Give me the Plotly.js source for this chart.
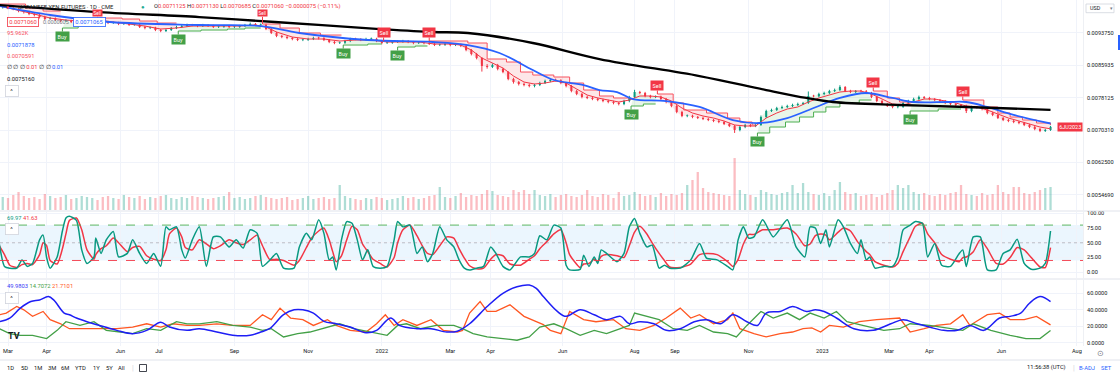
<!DOCTYPE html>
<html><head><meta charset="utf-8">
<script src="https://cdn.plot.ly/plotly-3.0.1.min.js"></script>
<style>html,body{margin:0;padding:0;background:#fff;overflow:hidden}</style>
</head><body><div id="chart" style="width:1120px;height:378px"></div>
<script>
// ---------- DATA (bar index 0 = 1 Mar 2021, trading days; one candle = 3 sessions) ----------
const firstBar = -3, barStep = 3;
const closes = [0.009996,0.009972,0.009948,0.009900,0.009876,0.009828,0.009804,0.009755,0.009707,0.009720,
0.009683,0.009659,0.009665,0.009635,0.009640,0.009659,0.009683,0.009707,0.009683,0.009635,
0.009611,0.009615,0.009587,0.009590,0.009563,0.009570,0.009514,0.009490,0.009495,0.009442,
0.009418,0.009442,0.009490,0.009514,0.009538,0.009563,0.009555,0.009538,0.009563,0.009540,
0.009514,0.009520,0.009538,0.009514,0.009518,0.009538,0.009563,0.009587,0.009563,0.009570,
0.009466,0.009370,0.009297,0.009273,0.009249,0.009225,0.009201,0.009205,0.009225,0.009249,
0.009245,0.009201,0.009153,0.009129,0.009135,0.009177,0.009225,0.009220,0.009201,0.009225,
0.009230,0.009177,0.009129,0.009135,0.009153,0.009160,0.009177,0.009153,0.009129,0.009135,
0.009125,0.009105,0.009080,0.009085,0.009105,0.009080,0.009088,0.009056,0.008960,0.008863,
0.008767,0.008574,0.008550,0.008598,0.008502,0.008429,0.008261,0.008188,0.008140,0.008116,
0.008092,0.008116,0.008164,0.008212,0.008237,0.008230,0.008164,0.008092,0.007971,0.007899,
0.007827,0.007803,0.007778,0.007754,0.007730,0.007706,0.007682,0.007658,0.007730,0.007827,
0.007947,0.007923,0.007851,0.007827,0.007835,0.007778,0.007706,0.007610,0.007465,0.007369,
0.007375,0.007344,0.007320,0.007296,0.007272,0.007248,0.007224,0.007176,0.007127,0.007031,
0.007103,0.007152,0.007127,0.007152,0.007344,0.007489,0.007513,0.007561,0.007586,0.007610,
0.007634,0.007658,0.007682,0.007851,0.007845,0.007899,0.007923,0.007971,0.007995,0.008068,
0.007971,0.007947,0.007971,0.007965,0.007923,0.007827,0.007730,0.007658,0.007610,0.007586,
0.007590,0.007682,0.007730,0.007778,0.007827,0.007803,0.007778,0.007754,0.007730,0.007682,
0.007658,0.007634,0.007610,0.007489,0.007586,0.007580,0.007537,0.007441,0.007393,0.007320,
0.007272,0.007248,0.007224,0.007200,0.007152,0.007103,0.007055,0.007007,0.007031,0.007106];
const highs = [0.010040,0.010010,0.009990,0.009975,0.009925,0.009905,0.009860,0.009830,0.009790,0.009760,
0.009745,0.009710,0.009700,0.009690,0.009675,0.009690,0.009715,0.009740,0.009735,0.009700,
0.009660,0.009645,0.009640,0.009620,0.009615,0.009600,0.009595,0.009545,0.009525,0.009520,
0.009470,0.009470,0.009515,0.009545,0.009565,0.009595,0.009590,0.009580,0.009590,0.009585,
0.009570,0.009550,0.009565,0.009560,0.009545,0.009565,0.009590,0.009620,0.009610,0.009600,
0.009595,0.009490,0.009400,0.009325,0.009300,0.009275,0.009255,0.009235,0.009255,0.009280,
0.009280,0.009270,0.009225,0.009180,0.009165,0.009205,0.009255,0.009255,0.009245,0.009255,
0.009260,0.009255,0.009200,0.009165,0.009180,0.009190,0.009205,0.009200,0.009180,0.009160,
0.009165,0.009150,0.009130,0.009110,0.009135,0.009130,0.009115,0.009115,0.009080,0.008985,
0.008890,0.008790,0.008620,0.008635,0.008625,0.008530,0.008450,0.008290,0.008215,0.008170,
0.008150,0.008145,0.008195,0.008245,0.008275,0.008270,0.008255,0.008190,0.008120,0.008000,
0.007925,0.007860,0.007830,0.007810,0.007785,0.007760,0.007735,0.007710,0.007760,0.007855,
0.008000,0.007975,0.007950,0.007880,0.007865,0.007860,0.007805,0.007730,0.007640,0.007495,
0.007405,0.007400,0.007370,0.007350,0.007325,0.007300,0.007275,0.007250,0.007205,0.007155,
0.007130,0.007180,0.007175,0.007180,0.007380,0.007520,0.007545,0.007590,0.007620,0.007640,
0.007665,0.007690,0.007710,0.007960,0.007880,0.007930,0.007955,0.008000,0.008030,0.008110,
0.008090,0.008000,0.007995,0.008000,0.007995,0.007950,0.007855,0.007760,0.007685,0.007640,
0.007620,0.007710,0.007760,0.007810,0.007860,0.007850,0.007830,0.007800,0.007780,0.007755,
0.007710,0.007685,0.007660,0.007640,0.007615,0.007610,0.007605,0.007560,0.007470,0.007420,
0.007345,0.007300,0.007275,0.007250,0.007225,0.007180,0.007130,0.007080,0.007060,0.007130];
const lows = [0.009960,0.009945,0.009920,0.009870,0.009840,0.009800,0.009770,0.009720,0.009680,0.009690,
0.009660,0.009630,0.009635,0.009610,0.009615,0.009620,0.009640,0.009660,0.009655,0.009610,
0.009585,0.009590,0.009560,0.009565,0.009540,0.009545,0.009490,0.009460,0.009465,0.009415,
0.009390,0.009395,0.009420,0.009465,0.009490,0.009515,0.009530,0.009510,0.009515,0.009515,
0.009490,0.009490,0.009495,0.009490,0.009490,0.009495,0.009515,0.009540,0.009540,0.009540,
0.009440,0.009345,0.009270,0.009245,0.009220,0.009195,0.009175,0.009175,0.009180,0.009200,
0.009215,0.009175,0.009125,0.009100,0.009105,0.009110,0.009150,0.009195,0.009175,0.009180,
0.009200,0.009150,0.009100,0.009105,0.009110,0.009130,0.009135,0.009125,0.009100,0.009105,
0.009100,0.009080,0.009055,0.009055,0.009060,0.009050,0.009055,0.009030,0.008930,0.008830,
0.008735,0.008440,0.008510,0.008525,0.008470,0.008400,0.008230,0.008150,0.008105,0.008085,
0.008060,0.008060,0.008090,0.008140,0.008185,0.008200,0.008135,0.008060,0.007940,0.007870,
0.007795,0.007775,0.007750,0.007725,0.007700,0.007675,0.007650,0.007625,0.007630,0.007700,
0.007800,0.007895,0.007820,0.007795,0.007800,0.007750,0.007675,0.007580,0.007435,0.007340,
0.007340,0.007315,0.007295,0.007270,0.007245,0.007220,0.007195,0.007150,0.007100,0.006960,
0.007000,0.007075,0.007100,0.007100,0.007130,0.007320,0.007465,0.007490,0.007535,0.007560,
0.007585,0.007610,0.007635,0.007660,0.007815,0.007820,0.007870,0.007895,0.007945,0.007970,
0.007945,0.007920,0.007920,0.007940,0.007895,0.007800,0.007700,0.007630,0.007585,0.007555,
0.007555,0.007565,0.007655,0.007705,0.007750,0.007775,0.007750,0.007725,0.007705,0.007655,
0.007630,0.007605,0.007580,0.007440,0.007460,0.007550,0.007505,0.007410,0.007365,0.007295,
0.007245,0.007220,0.007195,0.007170,0.007125,0.007075,0.007025,0.006980,0.006985,0.007010];
const volumes = [54200,50000,62600,75100,58400,50000,54200,45900,66700,58400,
50000,54200,62600,45900,50000,58400,54200,50000,41700,54200,
58400,50000,45900,62600,54200,50000,58400,45900,54200,50000,
58400,62600,50000,45900,54200,50000,58400,54200,50000,45900,
50000,54200,58400,75100,50000,54200,45900,50000,58400,62600,
54200,50000,45900,50000,54200,41700,45900,50000,58400,45900,
50000,54200,45900,50000,104300,58400,50000,45900,41700,50000,
45900,54200,50000,41700,45900,50000,58400,50000,54200,45900,
50000,58400,62600,95900,54200,50000,58400,70900,54200,62600,
58400,66700,83400,79200,62600,58400,54200,83400,75100,83400,
66700,83400,62600,58400,66700,54200,62600,66700,58400,54200,
62600,83400,58400,54200,66700,62600,50000,75100,58400,62600,
75100,66700,58400,62600,54200,70900,58400,66700,62600,70900,
104300,125100,158500,91700,75100,70900,66700,62600,58400,216800,
83400,66700,62600,54200,83400,75100,66700,62600,70900,75100,
104300,70900,112600,75100,66700,62600,70900,58400,83400,116800,
75100,66700,70900,58400,62600,66700,54200,62600,70900,83400,
104300,91700,104300,75100,66700,70900,62600,58400,66700,62600,
70900,75100,104300,66700,62600,58400,70900,62600,66700,104300,
75100,66700,95900,95900,70900,66700,75100,83400,91700,95962];

const tickBars = [0,22,64,86,129,171,213,252,275,316,357,380,422,464,502,525,566,609];
const tickLabels = ['Mar','Apr','Jun','Jul','Sep','Nov','2022','Mar','Apr','Jun','Aug','Sep','Nov','2023','Mar','Apr','Jun','Aug'];
const priceTicks = [0.0054690,0.0062500,0.0070310,0.0078125,0.0085935,0.0093750,0.0101560];
const priceTickText = ['0.0054690','0.0062500','0.0070310','0.0078125','0.0085935','0.0093750','0.0101560'];

// [bar, value]
const emaBlue = [[-5,0.010021],[24,0.009804],[58,0.009635],[109,0.009563],[144,0.009538],[166,0.009370],[205,0.009201],[242,0.009153],[262,0.009080],[280,0.008888],[299,0.008478],[311,0.008237],[328,0.008116],[337,0.007995],[347,0.007947],[356,0.007778],[375,0.007730],[394,0.007586],[413,0.007272],[428,0.007200],[444,0.007320],[459,0.007561],[474,0.007803],[489,0.007923],[504,0.007803],[516,0.007706],[535,0.007706],[546,0.007706],[558,0.007586],[573,0.007393],[594,0.0071878]];
const smaBlack = [[-5,0.010045],[52,0.009876],[109,0.009755],[152,0.009635],[212,0.009466],[242,0.009394],[262,0.009370],[299,0.009129],[337,0.008743],[394,0.008333],[432,0.007995],[455,0.007803],[470,0.007706],[508,0.007634],[546,0.007586],[594,0.0075160]];
const emaRed = [[-5,0.010021],[6,0.009924],[15,0.009828],[24,0.009731],[33,0.009683],[42,0.009659],[51,0.009683],[60,0.009635],[69,0.009587],[78,0.009538],[87,0.009466],[96,0.009490],[105,0.009538],[114,0.009538],[123,0.009538],[132,0.009538],[141,0.009563],[147,0.009514],[153,0.009394],[162,0.009273],[171,0.009225],[180,0.009225],[189,0.009177],[198,0.009201],[207,0.009201],[216,0.009153],[225,0.009153],[234,0.009153],[243,0.009105],[252,0.009105],[258,0.009080],[264,0.008960],[270,0.008767],[276,0.008646],[282,0.008526],[288,0.008333],[294,0.008188],[300,0.008140],[306,0.008164],[312,0.008212],[318,0.008164],[324,0.008020],[330,0.007875],[336,0.007803],[342,0.007754],[348,0.007706],[354,0.007754],[360,0.007851],[366,0.007851],[372,0.007827],[378,0.007730],[384,0.007561],[390,0.007441],[396,0.007369],[402,0.007320],[408,0.007248],[414,0.007152],[420,0.007127],[426,0.007127],[432,0.007320],[438,0.007441],[444,0.007537],[450,0.007586],[456,0.007706],[462,0.007803],[468,0.007875],[474,0.007947],[480,0.007971],[486,0.007971],[492,0.007899],[498,0.007778],[504,0.007658],[510,0.007634],[516,0.007706],[522,0.007778],[528,0.007778],[534,0.007730],[540,0.007682],[546,0.007610],[552,0.007586],[558,0.007513],[564,0.007417],[570,0.007320],[576,0.007248],[582,0.007176],[588,0.007103],[594,0.0070591]];
// [bar, level, direction (1 = bullish / green, -1 = bearish / red)]
const supertrend = [[-5,0.010069,-1],[10,0.009972,-1],[20,0.009900,-1],
[31,0.009490,1],[40,0.009538,1],
[51,0.009731,-1],[65,0.009707,-1],[75,0.009659,-1],[85,0.009611,-1],
[97,0.009418,1],[110,0.009442,1],[125,0.009466,1],[135,0.009490,1],
[145,0.009587,-1],[155,0.009490,-1],[166,0.009370,-1],[178,0.009321,-1],
[191,0.009080,1],[205,0.009105,1],
[214,0.009177,-1],
[222,0.009032,1],[232,0.009056,1],
[240,0.009177,-1],[250,0.009177,-1],[262,0.009129,-1],[273,0.008743,-1],[284,0.008671,-1],[292,0.008429,-1],[299,0.008357,-1],[311,0.008309,-1],[320,0.008164,-1],[328,0.007995,-1],[337,0.007851,-1],[345,0.007803,-1],
[355,0.007610,1],[362,0.007658,1],
[370,0.007899,-1],[379,0.007682,-1],[385,0.007513,-1],[398,0.007441,-1],[410,0.007320,-1],[417,0.007224,-1],[424,0.007152,-1],
[427,0.006959,1],[434,0.007103,1],[443,0.007224,1],[451,0.007344,1],[459,0.007465,1],[466,0.007586,1],[474,0.007682,1],[485,0.007754,1],
[493,0.007971,-1],[501,0.007803,-1],[508,0.007706,-1],
[514,0.007489,1],[530,0.007537,1],
[544,0.007754,-1],[556,0.007586,-1],[564,0.007441,-1],[571,0.007344,-1],[578,0.007272,-1],[586,0.007200,-1],[594,0.007152,-1]];

const stochK = [[-5,49],[-2,10],[1,7],[5,7],[8,21],[11,10],[14,15],[18,55],[20,63],[22,25],[24,7],[28,26],[31,70],[33,92],[35,95],[39,88],[42,38],[45,15],[49,26],[50,58],[53,32],[56,55],[60,69],[63,26],[68,32],[71,55],[75,32],[79,15],[83,32],[87,10],[90,77],[92,72],[96,77],[99,38],[101,24],[105,55],[109,77],[113,10],[117,60],[121,60],[126,43],[130,55],[134,41],[138,72],[142,66],[145,10],[149,20],[153,32],[157,7],[163,7],[166,43],[170,66],[173,55],[177,89],[180,66],[183,21],[185,26],[187,4],[190,55],[193,86],[196,83],[199,55],[202,21],[205,38],[208,10],[212,7],[216,10],[220,55],[222,86],[225,77],[229,80],[233,32],[236,43],[239,18],[242,32],[246,77],[250,55],[254,43],[257,21],[260,7],[263,4],[267,7],[271,10],[275,43],[278,32],[282,10],[286,4],[292,26],[297,26],[300,32],[303,62],[307,55],[311,80],[315,75],[318,12],[320,4],[326,5],[328,29],[331,10],[334,26],[336,15],[338,38],[341,32],[347,18],[351,32],[354,77],[357,91],[360,66],[364,43],[367,46],[371,7],[374,12],[377,7],[383,7],[389,21],[394,49],[398,24],[404,21],[410,10],[413,4],[416,55],[419,77],[422,58],[425,60],[430,89],[436,60],[444,89],[449,43],[454,26],[457,77],[460,75],[463,49],[466,72],[468,43],[473,89],[476,77],[480,49],[484,32],[486,55],[489,21],[491,26],[494,7],[499,10],[504,10],[507,26],[510,72],[514,80],[517,86],[521,83],[524,26],[528,49],[532,12],[537,10],[542,32],[544,38],[546,10],[550,60],[554,60],[558,4],[563,4],[567,32],[571,38],[575,56],[579,15],[583,5],[588,7],[591,15],[594,69.97]];
const stochD = [[-5,45],[-2,30],[1,12],[5,8],[8,13],[11,15],[14,13],[18,30],[20,50],[22,45],[24,20],[28,14],[31,40],[33,65],[35,88],[39,92],[42,72],[45,38],[49,22],[50,30],[53,40],[56,45],[60,58],[63,50],[68,35],[71,42],[75,44],[79,28],[83,22],[87,20],[90,38],[92,65],[96,75],[99,60],[101,42],[105,38],[109,55],[113,48],[117,40],[121,45],[126,55],[130,50],[134,47],[138,55],[142,63],[145,45],[149,22],[153,22],[157,20],[163,12],[166,20],[170,42],[173,58],[177,70],[180,75],[183,55],[185,35],[187,18],[190,28],[193,55],[196,78],[199,72],[202,48],[205,35],[208,22],[212,15],[216,9],[220,25],[222,50],[225,72],[229,80],[233,62],[236,45],[239,32],[242,30],[246,45],[250,60],[254,58],[257,40],[260,24],[263,11],[267,6],[271,7],[275,22],[278,30],[282,28],[286,14],[292,12],[297,22],[300,28],[303,40],[307,52],[311,65],[315,72],[318,50],[320,30],[326,8],[328,14],[331,15],[334,22],[336,18],[338,27],[341,30],[347,28],[351,25],[354,45],[357,68],[360,78],[364,65],[367,50],[371,32],[374,20],[377,9],[383,8],[389,14],[394,30],[398,32],[404,30],[410,18],[413,10],[416,22],[419,48],[422,64],[425,64],[430,72],[436,72],[444,75],[449,65],[454,45],[457,48],[460,62],[463,65],[466,63],[468,55],[473,68],[476,75],[480,70],[484,52],[486,45],[489,35],[491,30],[494,18],[499,12],[504,9],[507,15],[510,35],[514,60],[517,78],[521,83],[524,65],[528,50],[532,30],[537,22],[542,18],[544,25],[546,26],[550,35],[554,55],[558,40],[563,15],[567,14],[571,25],[575,42],[579,38],[583,25],[588,9],[591,8],[594,41.63]];

const adx = [[-5,25.5],[1,30],[7,42],[13,50],[18,52],[23,56],[26,52],[32,36],[35,34],[39,30],[45,25.5],[52,21],[62,15],[71,11],[79,15],[87,25],[92,19],[102,15],[109,17],[119,13],[128,9],[138,9],[144,13],[149,17],[157,34],[163,40],[168,40],[174,36],[180,26],[187,23],[195,19],[204,12],[210,15],[218,30],[223,21],[233,17],[241,17],[250,13],[256,14],[263,23],[273,44],[282,60],[290,68],[297,70],[301,66],[305,56],[313,38],[318,32],[326,40],[334,34],[341,28],[349,32],[354,23],[360,25.5],[368,23],[375,15],[383,17],[391,25.5],[398,28],[406,23],[413,34],[421,25.5],[427,21],[432,36],[440,38],[447,44],[455,38],[460,40],[465,38],[472,30],[482,17],[493,15],[503,23],[510,28],[518,23],[525,19],[533,15],[541,15],[548,21],[556,15],[565,30],[571,32],[577,36],[582,48],[588,56],[594,49.98]];
const diMinus = [[-5,34],[-1,36],[5,44],[9,40],[14,32],[20,38],[24,28],[30,23],[35,17],[43,17],[52,17],[62,17],[71,19],[79,23],[87,19],[94,23],[102,21],[109,21],[119,23],[128,21],[138,21],[145,34],[150,28],[155,42],[161,30],[168,28],[174,21],[182,28],[187,21],[195,15],[204,13],[210,23],[215,34],[220,21],[225,28],[233,21],[241,28],[248,15],[256,13],[259,15],[263,36],[269,50],[273,38],[278,38],[286,46],[294,32],[301,25.5],[305,22],[309,15],[315,11],[320,38],[328,28],[335,25.5],[345,28],[352,17],[360,15],[368,21],[375,30],[383,42],[389,30],[394,34],[402,23],[410,28],[413,36],[417,17],[425,11],[432,7],[440,11],[447,13],[453,17],[458,18],[463,13],[468,21],[476,19],[485,25.5],[495,28],[508,30],[514,13],[522,17],[529,21],[537,23],[544,34],[548,21],[558,34],[565,36],[571,28],[579,28],[586,32],[594,21.71]];
const diPlus = [[-5,17],[1,11],[7,9],[14,9],[22,5],[28,15],[33,25.5],[41,21],[49,25.5],[56,15],[64,13],[71,11],[79,17],[87,15],[96,25.5],[102,23],[109,23],[119,25.5],[128,21],[138,19],[145,15],[150,17],[157,7],[165,11],[172,13],[182,19],[189,23],[197,17],[206,13],[216,9],[222,21],[227,23],[235,17],[244,21],[254,21],[259,17],[265,11],[273,7],[282,5],[290,3],[297,7],[303,19],[311,23],[318,17],[326,9],[334,15],[341,11],[349,17],[354,21],[357,36],[364,32],[371,28],[379,17],[387,15],[394,21],[402,13],[410,11],[415,7],[421,21],[429,38],[436,30],[444,36],[451,28],[457,36],[465,30],[472,38],[478,25.5],[487,21],[499,15],[508,17],[514,23],[525,21],[537,17],[544,15],[550,23],[560,15],[571,9],[580,5],[588,5],[594,14.71]];

// ---------- STYLE ----------
const UP = '#089981', DN = '#f23645', GREEN = '#4caf50', BLUE = '#2962ff';
const PW = 1083, PH = 346;
const px = x => x / PW, py = y => 1 - y / PH;
const PRICE_RANGE = [0.005102, 0.010166], PRICE_PANE_PX = 210;

// ---------- DERIVED ----------
const bars = closes.map((_, i) => firstBar + i * barStep);
const opens = closes.map((c, i) => i === 0 ? c : closes[i - 1]);
const isUp = closes.map((c, i) => c >= opens[i]);
const lastBar = bars[bars.length - 1];
const col = a => a.map(p => p[0]), val = a => a.map(p => p[1]);

const traces = [];
traces.push({type:'bar', x:bars, y:volumes, yaxis:'y2', width:1.3, hoverinfo:'skip',
  marker:{color: isUp.map(u => u ? 'rgba(8,153,129,0.33)' : 'rgba(242,54,69,0.33)'), line:{width:0}}});

// supertrend segments
const segs = [];
supertrend.forEach(p => {
  const s = segs[segs.length - 1];
  if (!s || s.dir !== p[2]) segs.push({dir:p[2], pts:[p]}); else s.pts.push(p);
});
segs.forEach((s, k) => { s.end = k < segs.length - 1 ? segs[k+1].pts[0][0] - 1 : lastBar; });
segs.forEach(s => {
  const xs = [], ys = [];
  s.pts.forEach((p, i) => {
    const nb = i < s.pts.length - 1 ? s.pts[i+1][0] : s.end;
    xs.push(p[0], nb); ys.push(p[1], p[1]);
  });
  const start = s.pts[0][0];
  const fx = xs.slice(), fy = ys.slice();
  for (let i = bars.length - 1; i >= 0; i--) if (bars[i] >= start && bars[i] <= s.end) { fx.push(bars[i]); fy.push(closes[i]); }
  traces.push({type:'scatter', mode:'lines', x:fx, y:fy, fill:'toself', line:{width:0}, hoverinfo:'skip',
    fillcolor: s.dir > 0 ? 'rgba(76,175,80,0.13)' : 'rgba(242,54,69,0.12)'});
  s.lx = xs; s.ly = ys;
});

// candles: wicks + thin bodies
[true, false].forEach(up => {
  const wx = [], wy = [], bx = [], bb = [], bh = [];
  bars.forEach((b, i) => {
    if (isUp[i] !== up) return;
    wx.push(b, b, null); wy.push(lows[i], highs[i], null);
    bx.push(b); bb.push(Math.min(opens[i], closes[i])); bh.push(Math.max(Math.abs(closes[i] - opens[i]), 0.000015));
  });
  const c = up ? UP : DN;
  traces.push({type:'scatter', mode:'lines', x:wx, y:wy, line:{color:c, width:1}, hoverinfo:'skip', connectgaps:false});
  traces.push({type:'bar', x:bx, y:bh, base:bb, width:1.15, marker:{color:c, line:{width:0}}, hoverinfo:'skip'});
});

traces.push({type:'scatter', mode:'lines', x:col(emaRed), y:val(emaRed), line:{color:DN, width:1}, hoverinfo:'skip'});
segs.forEach(s => traces.push({type:'scatter', mode:'lines', x:s.lx, y:s.ly, hoverinfo:'skip',
  line:{color: s.dir > 0 ? GREEN : '#f7525f', width:1}}));
traces.push({type:'scatter', mode:'lines', x:col(emaBlue), y:val(emaBlue), line:{color:BLUE, width:1.8, shape:'spline'}, hoverinfo:'skip'});
traces.push({type:'scatter', mode:'lines', x:col(smaBlack), y:val(smaBlack), line:{color:'#000', width:2.3, shape:'spline'}, hoverinfo:'skip'});

traces.push({type:'scatter', mode:'lines', x:col(stochD), y:val(stochD), yaxis:'y3', line:{color:DN, width:1.5, shape:'spline', smoothing:0.6}, hoverinfo:'skip'});
traces.push({type:'scatter', mode:'lines', x:col(stochK), y:val(stochK), yaxis:'y3', line:{color:UP, width:1.5, shape:'spline', smoothing:0.6}, hoverinfo:'skip'});

traces.push({type:'scatter', mode:'lines', x:col(diMinus), y:val(diMinus), yaxis:'y4', line:{color:'#ff5722', width:1.3}, hoverinfo:'skip'});
traces.push({type:'scatter', mode:'lines', x:col(diPlus), y:val(diPlus), yaxis:'y4', line:{color:'#43a047', width:1.3}, hoverinfo:'skip'});
traces.push({type:'scatter', mode:'lines', x:col(adx), y:val(adx), yaxis:'y4', line:{color:'#1e1ef5', width:1.5, shape:'spline'}, hoverinfo:'skip'});

// ---------- ANNOTATIONS ----------
const FONT = 'Roboto, "Liberation Sans", Arial, sans-serif';
const ann = [];
// Buy / Sell signals at supertrend flips; a label that would run into the header rows is squeezed into the gap between them
segs.forEach((s, k) => {
  if (k === 0) return;
  const buy = s.dir > 0, c = buy ? '#43a047' : DN;
  const yPix = PRICE_PANE_PX * (1 - (s.pts[0][1] - PRICE_RANGE[0]) / (PRICE_RANGE[1] - PRICE_RANGE[0]));
  const tight = !buy && yPix < 26;
  ann.push({xref:'x', yref:'y', x:s.pts[0][0], y:s.pts[0][1], text: buy ? 'Buy' : 'Sell', showarrow:true,
    arrowhead:0, arrowwidth:1, arrowcolor:c, ax:0, ay: buy ? 8.5 : (tight ? 13.3 - yPix : -8.5), standoff:0,
    bgcolor:c, borderpad: tight ? 0.6 : 1.6, font:{family:FONT, size: tight ? 4.6 : 5.4, color:'#fff'}});
});
function T(x, y, text, color, size, extra) {
  ann.push(Object.assign({xref:'paper', yref:'paper', x:px(x), y:py(y), xanchor:'left', yanchor:'middle',
    text, showarrow:false, font:{family:FONT, size:size || 5.8, color:color || '#131722'}}, extra || {}));
}
const sp = (c, t) => '<span style="color:' + c + '">' + t + '</span>';
T(4, 6.5, '●', DN, 5.5);
T(17, 6.5, 'JAPANESE YEN FUTURES · 1D · CME', '#131722', 5.8);
T(139, 6.5, '●', '#22ab94', 6);
T(152, 6.5, 'O' + sp(DN,'0.0071125') + ' H' + sp(DN,'0.0071130') + ' L' + sp(DN,'0.0070685') + ' C' + sp(DN,'0.0071060') + ' ' + sp(DN,'−0.0000075 (−0.11%)'), '#131722', 5.8);
T(22.5, 22.5, '0.0071060', DN, 5.8, {xanchor:'center', bordercolor:DN, borderwidth:0.8, borderpad:1.4, bgcolor:'#fff'});
T(56, 22.5, '0.0000005', '#787b86', 5.4, {xanchor:'center'});
T(89.5, 22.5, '0.0071065', BLUE, 5.8, {xanchor:'center', bordercolor:BLUE, borderwidth:0.8, borderpad:1.4, bgcolor:'#fff'});
T(5, 33, '95.962K', '#f7525f', 5.8);
T(5, 45, '0.0071878', BLUE, 5.8);
T(5, 56.5, '0.0070591', '#f7525f', 5.8);
T(5, 67, '∅ ∅ ∅ ' + sp(DN,'0.01') + ' ∅ ∅ ' + sp(BLUE,'0.01'), '#131722', 5.8);
T(5, 79, '0.0075160', '#131722', 5.8);
const btn = {xanchor:'center', bordercolor:'#d1d4dc', borderwidth:0.8, borderpad:1.5, bgcolor:'#fff', width:9};
T(12, 90.5, '^', '#131722', 6, btn);
T(5, 217.5, sp(UP,'69.97') + ' ' + sp(DN,'41.63'), '#131722', 5.8);
T(12, 228.5, '^', '#131722', 6, btn);
T(5, 286, sp('#3a3af5','49.9803') + ' ' + sp('#43a047','14.7072') + ' ' + sp('#ff5722','21.7101'), '#131722', 5.8);
T(12, 297.5, '^', '#131722', 6, btn);
T(6, 336, '<b>TV</b>', '#131722', 9);
T(1088, 8.3, 'USD', '#131722', 5.4);
T(1108, 8.3, '▾', '#787b86', 5.4);
T(1100, 353, '⊙', '#787b86', 8, {xanchor:'center'});
[['1D',10.7],['5D',24],['1M',37.5],['3M',52],['6M',65],['YTD',80],['1Y',96],['5Y',109],['All',121]].forEach(t =>
  T(t[1], 368, t[0], '#131722', 5.8, {xanchor:'center'}));
T(133, 368, '|', '#d1d4dc', 7, {xanchor:'center'});
T(1046, 368, '11:56:38 (UTC)', '#131722', 5.8, {xanchor:'center'});
T(1074, 368, '|', '#d1d4dc', 7, {xanchor:'center'});
T(1087, 368, 'B-ADJ', BLUE, 5.8, {xanchor:'center'});
T(1106, 368, 'SET', BLUE, 5.8, {xanchor:'center'});
ann.push({xref:'paper', yref:'y', x:1, y:closes[closes.length-1], xanchor:'right', yanchor:'middle', text:'6JU2023',
  showarrow:false, bgcolor:DN, borderpad:1.2, font:{family:FONT, size:5.5, color:'#fff'}});

// ---------- SHAPES ----------
const shapes = [
  {type:'rect', xref:'paper', yref:'y3', x0:0, x1:1, y0:20, y1:80, fillcolor:'rgba(33,150,243,0.09)', line:{width:0}, layer:'below'},
  {type:'line', xref:'paper', yref:'y3', x0:0, x1:1, y0:80, y1:80, line:{color:'rgba(76,175,80,0.9)', width:1, dash:'dash'}},
  {type:'line', xref:'paper', yref:'y3', x0:0, x1:1, y0:50, y1:50, line:{color:'rgba(120,123,134,0.45)', width:1, dash:'dot'}},
  {type:'line', xref:'paper', yref:'y3', x0:0, x1:1, y0:20, y1:20, line:{color:'rgba(242,54,69,0.9)', width:1, dash:'dash'}},
  {type:'line', xref:'paper', yref:'paper', x0:0, x1:px(1120), y0:py(211), y1:py(211), line:{color:'#e0e3eb', width:1}},
  {type:'line', xref:'paper', yref:'paper', x0:0, x1:px(1120), y0:py(279), y1:py(279), line:{color:'#e0e3eb', width:1}},
  {type:'line', xref:'paper', yref:'paper', x0:0, x1:px(1120), y0:py(360), y1:py(360), line:{color:'#e0e3eb', width:1}},
  {type:'line', xref:'paper', yref:'paper', x0:px(1083.5), x1:px(1083.5), y0:py(0), y1:py(346), line:{color:'#eef0f4', width:1}},
  {type:'rect', xref:'paper', yref:'paper', x0:px(1086), x1:px(1114), y0:py(4), y1:py(12.7), line:{color:'#d1d4dc', width:0.8}, fillcolor:'#fff', layer:'above'},
  {type:'rect', xref:'paper', yref:'paper', x0:px(1118), x1:px(1120), y0:py(35), y1:py(50), line:{width:0}, fillcolor:BLUE},
  {type:'rect', xref:'paper', yref:'paper', x0:px(139.5), x1:px(146.5), y0:py(364.5), y1:py(371.5), line:{color:'#131722', width:0.8}}
];

const axisFont = {family:FONT, size:5.6, color:'#131722'};
const yBase = {side:'right', anchor:'x', showgrid:true, gridcolor:'#f0f3fa', zeroline:false, showline:false, ticks:'', tickfont:axisFont, fixedrange:true, ticklabelstandoff:3};
const layout = {
  width:1120, height:378, margin:{l:0, r:37, t:0, b:32},
  paper_bgcolor:'#fff', plot_bgcolor:'#fff', showlegend:false, barmode:'overlay',
  font:{family:FONT, size:5.8, color:'#131722'},
  xaxis:{range:[-4.56, 612.5], tickvals:tickBars, ticktext:tickLabels, tickfont:axisFont, showgrid:true, gridcolor:'#f0f3fa',
    zeroline:false, showline:false, ticks:'', anchor:'y4', fixedrange:true},
  yaxis:Object.assign({}, yBase, {domain:[py(PRICE_PANE_PX), 1], range:PRICE_RANGE, tickvals:priceTicks, ticktext:priceTickText}),
  yaxis2:{overlaying:'y', range:[0, 876000], visible:false, fixedrange:true},
  yaxis3:Object.assign({}, yBase, {domain:[py(278), py(212)], range:[-9.7, 102.2], tickvals:[0,25,50,75,100], ticktext:['0.00','25.00','50.00','75.00','100.00']}),
  yaxis4:Object.assign({}, yBase, {domain:[0, py(280)], range:[-4, 76.2], tickvals:[0,20,40,60], ticktext:['0.0000','20.0000','40.0000','60.0000']}),
  annotations:ann, shapes:shapes
};
Plotly.newPlot('chart', traces, layout, {staticPlot:true, displayModeBar:false});
</script></body></html>
